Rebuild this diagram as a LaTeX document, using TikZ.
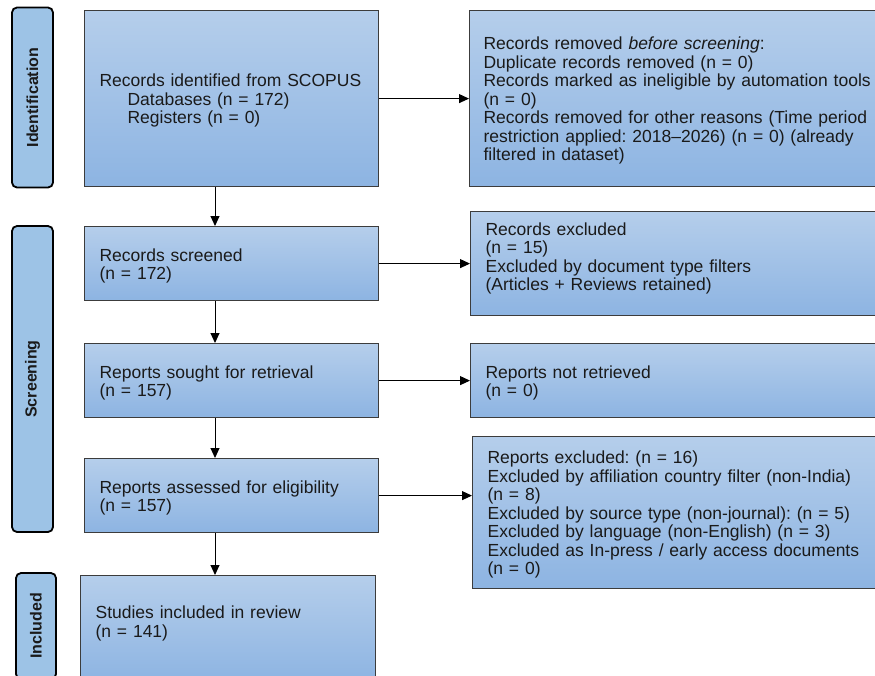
\documentclass[tikz,border=0pt]{standalone}
\usepackage{fontspec}
\setmainfont{Liberation Sans}
\usepackage{graphicx}
\usetikzlibrary{arrows.meta,calc}
\definecolor{boxtop}{HTML}{B5CEEB}
\definecolor{boxbot}{HTML}{8DB4E2}
\definecolor{boxline}{HTML}{3C3C3C}
\definecolor{labfill}{HTML}{9DC3E6}
\definecolor{txt}{HTML}{1A1A1A}
\frenchspacing
\newcommand{\topstrut}{\rule{0pt}{17pt}}
\begin{document}
\begin{tikzpicture}[x=1pt,y=-1pt,
  box/.style={draw=boxline, line width=1.2pt, top color=boxtop, bottom color=boxbot,
    anchor=north west, align=left, inner xsep=15pt, inner ysep=0pt, text=txt,
    font=\fontsize{17.5}{18.5}\selectfont},
  lab/.style={draw=black, line width=1.8pt, rounded corners=5pt, fill=labfill,
    rotate=90, inner sep=0pt, text=txt, font=\bfseries\fontsize{16}{18}\selectfont},
  arr/.style={draw=black, line width=1pt, -{Triangle[length=10pt,width=9pt]}}]
\useasboundingbox (0,0) rectangle (875,675);
\clip (0,0) rectangle (875,675);
% phase labels
\node[lab, minimum width=180pt, minimum height=41pt] (lid) at (32.5,97.5) {Identification};
\node[lab, minimum width=306pt, minimum height=41pt] (lsc) at (32.5,379) {Screening};
\node[lab, minimum width=106pt, minimum height=40pt] (lin) at (36,626) {Included};
% left column
\node[box, minimum width=294pt, minimum height=176pt, text width=264pt] (b1) at (84,10)
  {\topstrut Records identified from SCOPUS\\
   \hspace*{28pt}Databases (n = 172)\\
   \hspace*{28pt}Registers (n = 0)};
\node[box, minimum width=294pt, minimum height=74pt, text width=264pt] (b2) at (84,226)
  {\topstrut Records screened\\(n = 172)};
\node[box, minimum width=294pt, minimum height=74pt, text width=264pt] (b3) at (84,343)
  {\topstrut Reports sought for retrieval\\(n = 157)};
\node[box, minimum width=294pt, minimum height=74pt, text width=264pt] (b4) at (84,458)
  {\topstrut Reports assessed for eligibility\\(n = 157)};
\node[box, minimum width=295pt, minimum height=106pt, text width=265pt] (b5) at (80,575)
  {\topstrut Studies included in review\\(n = 141)\\\mbox{}};
% right column
\node[box, inner xsep=14pt, minimum width=440pt, minimum height=176pt, text width=412pt] (rem) at (469,10)
  {\topstrut Records removed \textit{before screening}:\\
   Duplicate records removed (n = 0)\\
   Records marked as ineligible by automation tools\\
   (n = 0)\\
   Records removed for other reasons (Time period\\
   restriction applied: 2018–2026) (n = 0) (already\\
   filtered in dataset)};
\node[box, minimum width=440pt, minimum height=104pt, text width=410pt] (exc) at (470,211)
  {\topstrut Records excluded\\(n = 15)\\Excluded by document type filters\\(Articles + Reviews retained)\\\mbox{}};
\node[box, minimum width=440pt, minimum height=74pt, text width=410pt] (ntr) at (470,343)
  {\topstrut Reports not retrieved\\(n = 0)};
\node[box, minimum width=440pt, minimum height=152pt, text width=410pt] (rex) at (472,436)
  {\topstrut Reports excluded: (n = 16)\\
   Excluded by affiliation country filter (non-India)\\
   (n = 8)\\
   Excluded by source type (non-journal): (n = 5)\\
   Excluded by language (non-English) (n = 3)\\
   Excluded as In-press / early access documents\\
   (n = 0)};
% connectors
\coordinate (ax) at (215,0);
\draw[arr] (b1.south -| ax) -- (b2.north -| ax);
\draw[arr] (b2.south -| ax) -- (b3.north -| ax);
\draw[arr] (b3.south -| ax) -- (b4.north -| ax);
\draw[arr] (b4.south -| ax) -- (b5.north -| ax);
\draw[arr] (b1.east) -- (b1.east -| rem.west);
\draw[arr] (b2.east) -- (b2.east -| exc.west);
\draw[arr] (b3.east) -- (b3.east -| ntr.west);
\draw[arr] (b4.east) -- (b4.east -| rex.west);
\end{tikzpicture}
\end{document}
